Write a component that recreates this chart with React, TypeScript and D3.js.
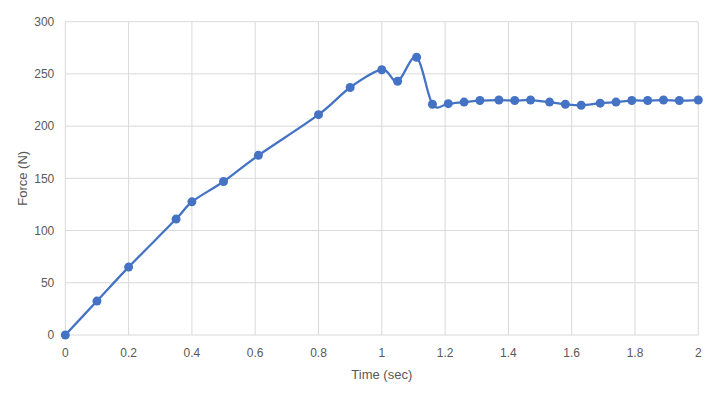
import React, { useEffect, useRef } from 'react';
import * as d3 from 'd3';

// Force vs time readings
const times = [0, 0.1, 0.2, 0.35, 0.4, 0.5, 0.61, 0.8, 0.9, 1.0, 1.05, 1.11, 1.16, 1.21, 1.26, 1.31, 1.37, 1.42, 1.47, 1.53, 1.58, 1.63, 1.69, 1.74, 1.79, 1.84, 1.89, 1.94, 2.0];
const forces = [0, 32.5, 65, 111, 127.5, 147, 172, 211, 237, 254, 243, 266, 221, 221.5, 223, 224.5, 225, 224.5, 225, 223, 221, 220, 222, 223, 224.5, 224.5, 225, 224.5, 225];
const xTicks = [0, 0.2, 0.4, 0.6, 0.8, 1, 1.2, 1.4, 1.6, 1.8, 2];
const yTicks = [0, 50, 100, 150, 200, 250, 300];

const App = () => {
  const svgRef = useRef<SVGSVGElement>(null);

  useEffect(() => {
    const svg = d3.select(svgRef.current);
    svg.selectAll('*').remove();
    const width = 715;
    const height = 395;
    const left = 65.3, right = 698.3, top = 21.7, bottom = 335;
    const font = '"Liberation Sans", Arial, sans-serif';
    const textColor = '#595959';

    const x = d3.scaleLinear().domain([0, 2]).range([left, right]);
    const y = d3.scaleLinear().domain([0, 300]).range([bottom, top]);

    svg.attr('width', width).attr('height', height);

    // grid lines
    svg.append('g').selectAll('line').data(yTicks).join('line')
      .attr('x1', left).attr('x2', right)
      .attr('y1', (d) => y(d)).attr('y2', (d) => y(d))
      .attr('stroke', '#d9d9d9').attr('stroke-width', 1);
    svg.append('g').selectAll('line').data(xTicks).join('line')
      .attr('x1', (d) => x(d)).attr('x2', (d) => x(d))
      .attr('y1', top).attr('y2', bottom)
      .attr('stroke', '#d9d9d9').attr('stroke-width', 1);

    // tick labels
    svg.append('g').selectAll('text').data(yTicks).join('text')
      .attr('x', left - 11).attr('y', (d) => y(d)).attr('dy', '0.35em')
      .attr('text-anchor', 'end')
      .style('font-family', font).style('font-size', '12px').style('fill', textColor)
      .text((d) => d);
    svg.append('g').selectAll('text').data(xTicks).join('text')
      .attr('x', (d) => x(d)).attr('y', 357)
      .attr('text-anchor', 'middle')
      .style('font-family', font).style('font-size', '12px').style('fill', textColor)
      .text((d) => d);

    // axis titles
    svg.append('text')
      .attr('x', (left + right) / 2).attr('y', 379)
      .attr('text-anchor', 'middle')
      .style('font-family', font).style('font-size', '13px').style('fill', textColor)
      .text('Time (sec)');
    svg.append('text')
      .attr('transform', `translate(26.5,${(top + bottom) / 2}) rotate(-90)`)
      .attr('text-anchor', 'middle')
      .style('font-family', font).style('font-size', '13px').style('fill', textColor)
      .text('Force (N)');

    const data = times.map((t, i) => ({ t, f: forces[i] }));

    const line = d3.line<{ t: number; f: number }>()
      .x((d) => x(d.t))
      .y((d) => y(d.f))
      .curve(d3.curveCardinal.tension(0));

    svg.append('path')
      .datum(data)
      .attr('d', line)
      .attr('fill', 'none')
      .attr('stroke', '#4472c4')
      .attr('stroke-width', 2.25);

    svg.append('g').selectAll('circle').data(data).join('circle')
      .attr('cx', (d) => x(d.t))
      .attr('cy', (d) => y(d.f))
      .attr('r', 4.5)
      .attr('fill', '#4472c4');
  }, []);

  return <svg ref={svgRef} style={{ position: 'absolute', left: 0, top: 0 }} />;
};

export default App;
